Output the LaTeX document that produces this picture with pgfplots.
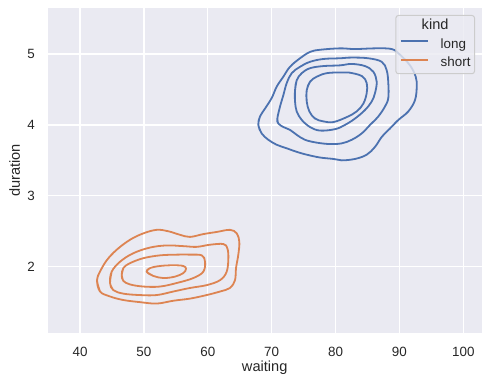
\documentclass[border=0pt]{standalone}
\usepackage{fontspec}
\setmainfont{Liberation Sans}
\usepackage{pgfplots}
\pgfplotsset{compat=1.18}
\definecolor{sbblue}{RGB}{76,114,176}
\definecolor{sborange}{RGB}{221,132,82}
\definecolor{sbbg}{RGB}{234,234,242}
\definecolor{sbtext}{RGB}{38,38,38}
\definecolor{sbedge}{RGB}{204,204,204}
\begin{document}
\begin{tikzpicture}
\begin{axis}[
  scale only axis, width=434bp, height=324.4bp,
  xmin=34.94, xmax=102.88, ymin=1.069, ymax=5.645,
  xtick={40,50,...,100}, ytick={2,3,4,5},
  axis background/.style={fill=sbbg},
  axis line style={draw=none},
  major tick length=0pt,
  grid=major, major grid style={white, line width=1.2bp},
  /pgf/number format/assume math mode=true,
  tick label style={font=\fontsize{13.4bp}{16bp}\selectfont, text=sbtext},
  xticklabel style={anchor=north, inner sep=0pt, yshift=-14bp},
  yticklabel style={anchor=east, inner sep=0pt, xshift=-12.7bp},
  xlabel={waiting}, ylabel={duration},
  every axis x label/.style={at={([yshift=-39bp]axis description cs:0.5,0)}, anchor=base, font=\fontsize{14.6bp}{17bp}\selectfont, text=sbtext},
  every axis y label/.style={at={([xshift=-27.7bp]axis description cs:0,0.5)}, rotate=90, anchor=base, font=\fontsize{14.6bp}{17bp}\selectfont, text=sbtext},
  legend style={at={(1,1)}, xshift=-6.7bp, yshift=-6.7bp, anchor=north east,
    fill=sbbg, fill opacity=0.8, text opacity=1, draw=sbedge, line width=1bp,
    rounded corners=2.5bp, inner xsep=4bp, inner ysep=4bp,
    font=\fontsize{13.4bp}{16bp}\selectfont, text=sbtext,
    nodes={inner sep=0bp, text height=10bp, text depth=3bp},
    column sep=11.6bp, row sep=5.6bp},
  legend cell align=left,
  legend image code/.code={\draw[#1] (0bp,3.5bp) -- (27.4bp,3.5bp);},
  every axis plot/.append style={line width=1.8bp, smooth, tension=0.6},
]
\addlegendimage{empty legend}
\addlegendentry{\fontsize{14.6bp}{17bp}\selectfont\hspace*{-19bp}kind}
\addlegendimage{sbblue, line width=1.8bp}
\addlegendentry{long}
\addlegendimage{sborange, line width=1.8bp}
\addlegendentry{short}

% long (blue): closed contours, the path wraps round (last point first, first two points again at the end)
\addplot[sbblue, forget plot] coordinates {
(68.44,3.88) (67.91,4.00) (68.18,4.12) (68.96,4.23) (70.01,4.38) (70.79,4.54) (71.83,4.68) (72.87,4.82) (74.44,4.94) (76.01,5.03) (77.57,5.06) (80.70,5.08) (83.05,5.07) (86.18,5.08) (88.80,5.07) (90.09,4.99) (91.66,4.84) (92.55,4.68) (92.71,4.54) (92.44,4.35) (91.39,4.19) (89.83,4.07) (88.53,3.95) (87.23,3.83) (86.18,3.69) (84.88,3.58) (83.05,3.52) (80.97,3.50) (79.65,3.52) (77.57,3.54) (75.49,3.58) (73.92,3.62) (72.36,3.67) (70.79,3.72) (69.48,3.79) (68.44,3.88) (67.91,4.00) (68.18,4.12)
};
\addplot[sbblue, forget plot] coordinates {
(71.05,4.02) (70.89,4.09) (71.31,4.26) (71.83,4.42) (72.36,4.59) (73.14,4.73) (74.44,4.82) (76.01,4.89) (78.09,4.93) (80.70,4.94) (82.53,4.95) (85.13,4.94) (87.23,4.89) (88.01,4.77) (88.26,4.59) (88.26,4.38) (87.74,4.26) (86.70,4.12) (85.40,4.00) (84.10,3.88) (82.53,3.79) (80.97,3.74) (79.14,3.73) (77.05,3.75) (75.22,3.79) (73.92,3.86) (72.87,3.93) (71.83,3.97) (71.05,4.02) (70.89,4.09) (71.31,4.26)
};
\addplot[sbblue, forget plot] coordinates {
(73.66,4.33) (73.66,4.49) (73.92,4.63) (74.71,4.73) (76.01,4.80) (78.09,4.83) (80.70,4.84) (82.53,4.86) (84.61,4.83) (85.91,4.75) (86.44,4.61) (86.18,4.45) (85.66,4.33) (84.61,4.21) (83.05,4.09) (81.48,4.00) (79.92,3.94) (77.57,3.92) (76.01,3.97) (74.71,4.07) (73.92,4.19) (73.66,4.33) (73.66,4.49) (73.92,4.63)
};
\addplot[sbblue, forget plot] coordinates {
(75.49,4.33) (75.49,4.49) (76.01,4.61) (77.05,4.68) (78.62,4.73) (80.70,4.74) (82.00,4.74) (84.10,4.69) (84.88,4.59) (84.88,4.45) (84.35,4.30) (83.31,4.19) (81.75,4.11) (79.65,4.04) (78.09,4.05) (76.79,4.09) (75.90,4.19) (75.49,4.33) (75.49,4.49) (76.01,4.61)
};
% short (orange)
\addplot[sborange, forget plot] coordinates {
(43.13,1.65) (42.66,1.81) (43.13,1.93) (44.18,2.09) (45.75,2.24) (47.83,2.38) (49.91,2.47) (52.01,2.52) (53.82,2.50) (55.65,2.45) (57.22,2.42) (59.30,2.46) (61.40,2.49) (63.48,2.52) (64.53,2.47) (64.94,2.35) (64.78,2.17) (64.42,1.98) (64.26,1.81) (63.48,1.70) (61.92,1.65) (59.83,1.60) (57.22,1.55) (54.61,1.52) (52.01,1.48) (49.39,1.50) (46.78,1.53) (44.70,1.58) (43.13,1.65) (42.66,1.81) (43.13,1.93)
};
\addplot[sborange, forget plot] coordinates {
(45.21,1.67) (44.70,1.77) (44.96,1.93) (46.26,2.07) (48.34,2.19) (50.96,2.27) (53.57,2.30) (56.17,2.29) (58.27,2.28) (60.35,2.31) (62.43,2.32) (63.06,2.26) (63.22,2.12) (62.96,1.93) (61.92,1.81) (59.83,1.74) (57.22,1.70) (54.61,1.65) (52.01,1.60) (49.39,1.60) (46.78,1.62) (45.21,1.67) (44.70,1.77) (44.96,1.93)
};
\addplot[sborange, forget plot] coordinates {
(46.78,1.80) (46.53,1.88) (46.78,1.98) (47.83,2.05) (49.91,2.12) (52.52,2.16) (55.14,2.17) (57.22,2.17) (59.05,2.16) (59.57,2.07) (59.30,1.93) (57.74,1.84) (55.14,1.77) (52.52,1.72) (49.91,1.72) (47.83,1.75) (46.78,1.80) (46.53,1.88) (46.78,1.98)
};
\addplot[sborange, forget plot] coordinates {
(51.47,1.87) (50.44,1.93) (50.96,1.98) (52.52,2.01) (54.61,2.02) (56.17,2.01) (56.59,1.97) (56.17,1.91) (54.87,1.86) (53.04,1.84) (51.47,1.87) (50.44,1.93) (50.96,1.98)
};
\end{axis}
\pgfresetboundingbox
\path[use as bounding box] ([shift={(-47.7bp,-52.3bp)}]current axis.south west) rectangle ([shift={(10.3bp,8.3bp)}]current axis.north east);
\end{tikzpicture}
\end{document}
